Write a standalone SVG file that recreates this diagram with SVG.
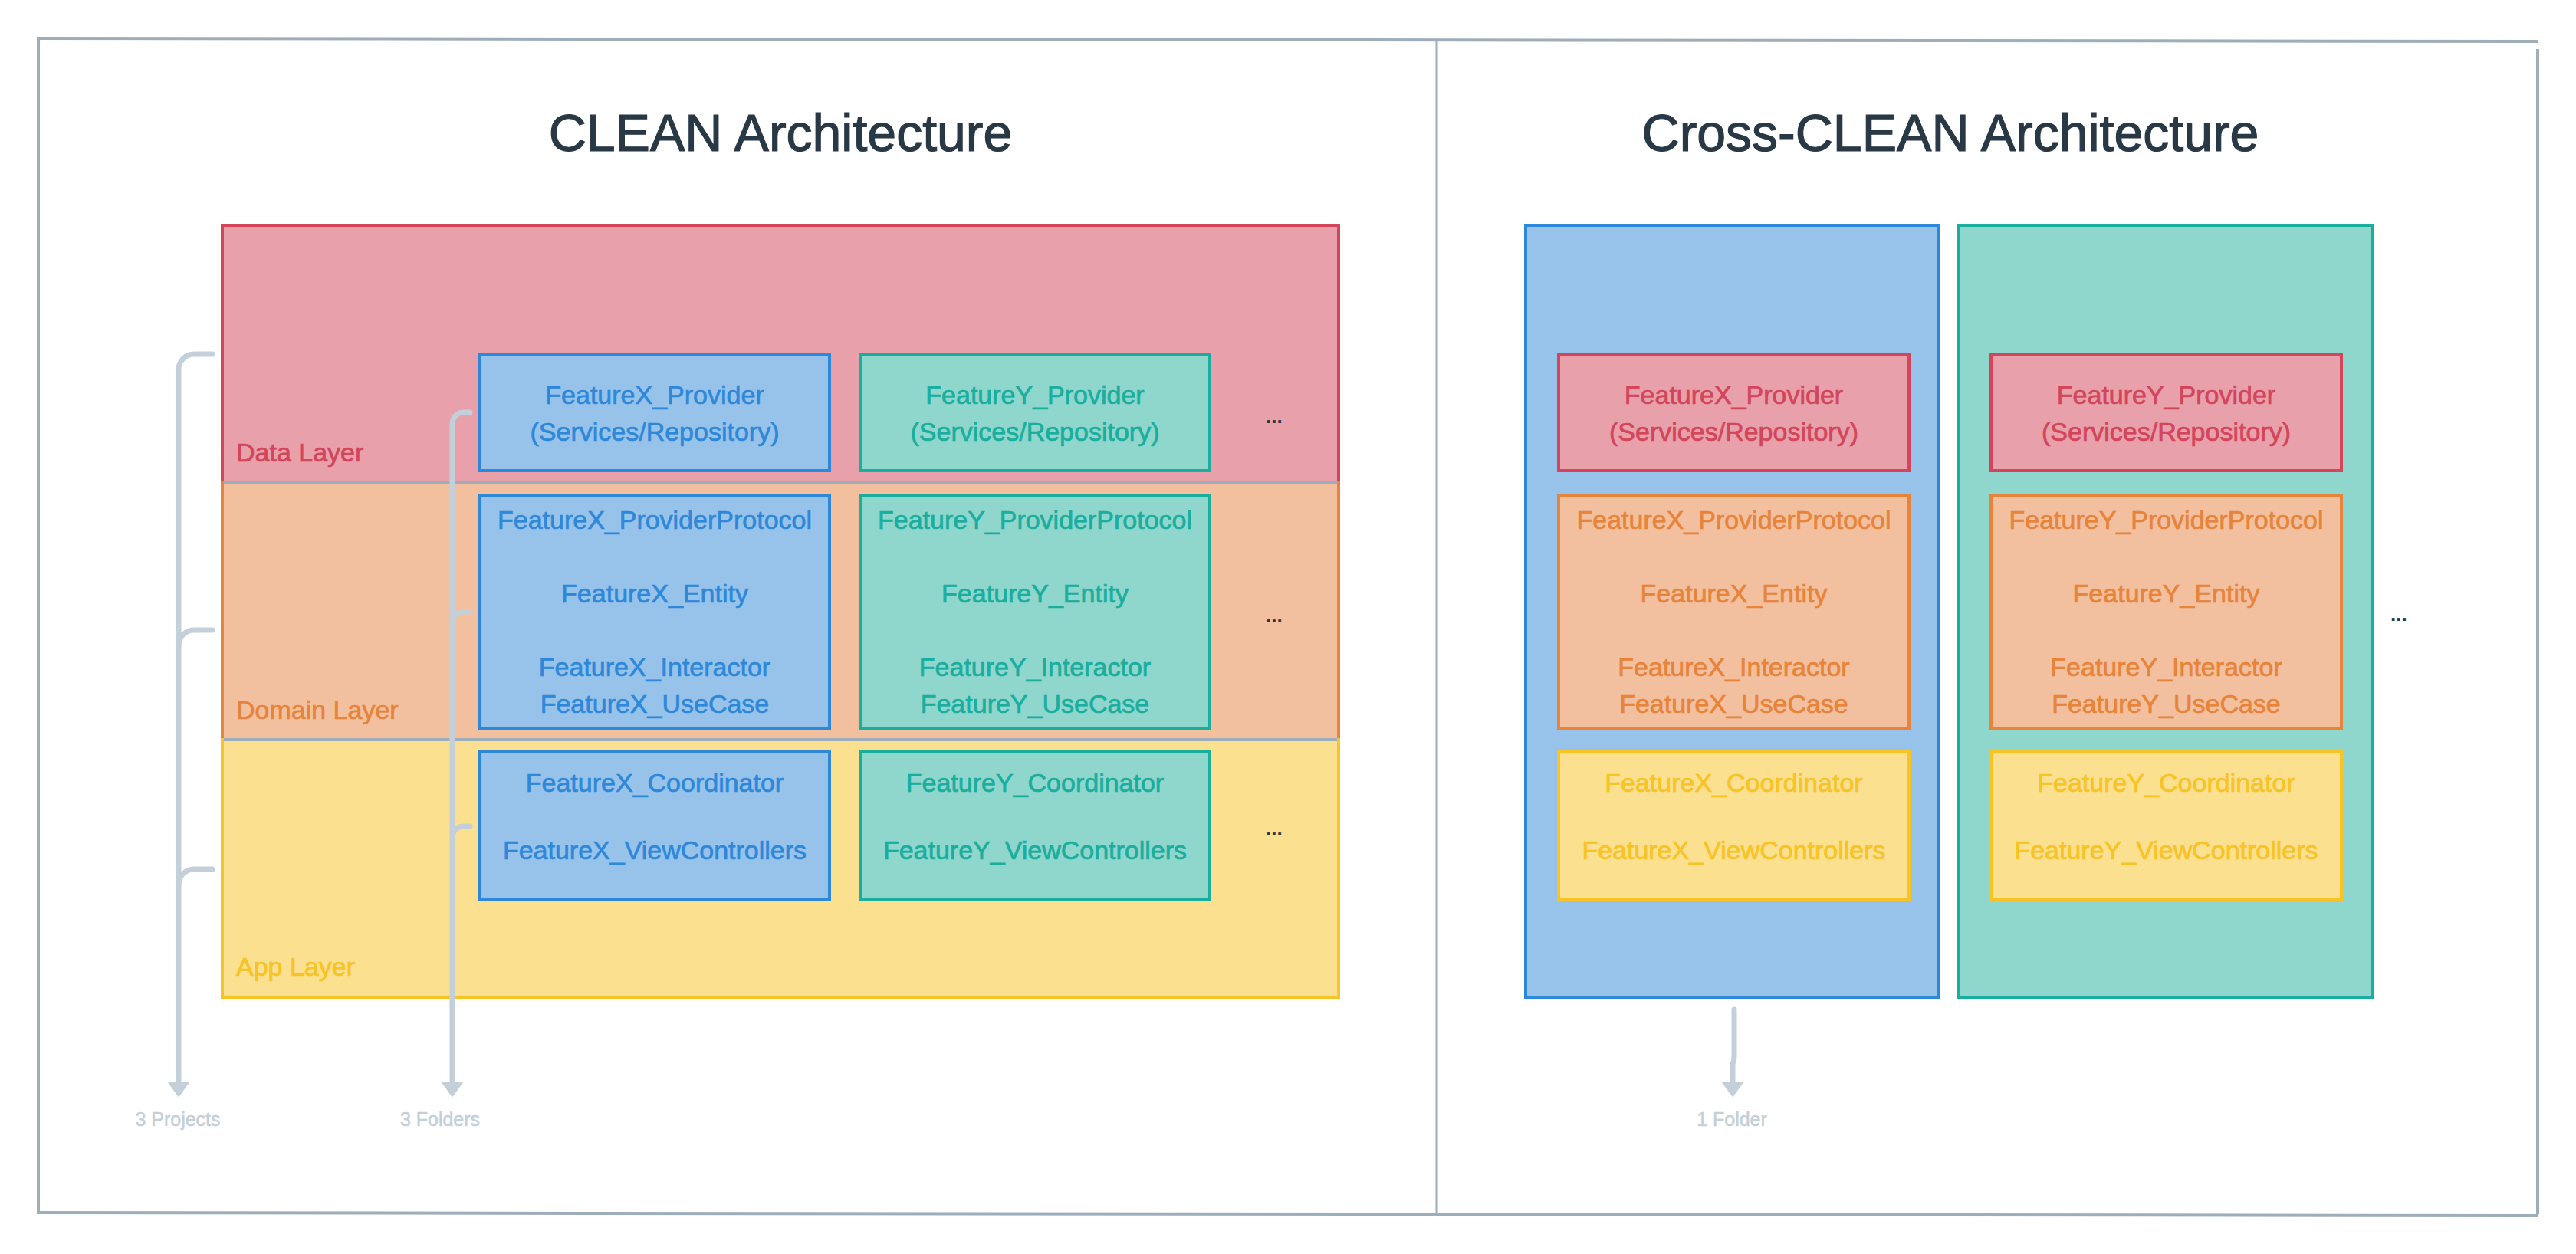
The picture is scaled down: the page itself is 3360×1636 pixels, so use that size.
<svg xmlns="http://www.w3.org/2000/svg" width="3360" height="1636" viewBox="0 0 3360 1636">
<style>
text{font-family:"Liberation Sans",Arial,sans-serif;}
.title{font-size:68px;fill:#283845;stroke:#283845;stroke-width:1.2;text-anchor:middle;}
.t{font-size:34px;text-anchor:middle;stroke-width:0.7;}
.lbl{font-size:34px;stroke-width:0.7;}
.note{font-size:25px;fill:#c3cfd9;stroke:#c3cfd9;stroke-width:0.5;text-anchor:middle;}
.dots{font-size:26px;font-weight:bold;fill:#283845;}
.frame{stroke:#9eadba;stroke-width:4;fill:none;}
.sep{stroke:#9eadba;stroke-width:4;}
.blue{fill:#97c3eb;stroke:#2e88d9;stroke-width:4;}
.green{fill:#8fd6cc;stroke:#1aae9f;stroke-width:4;}
.red{fill:#e8a0aa;stroke:#d3455b;stroke-width:4;}
.orange{fill:#f2c09e;stroke:#e8833a;stroke-width:4;}
.yellow{fill:#fae08f;stroke:#f7c325;stroke-width:4;}
.tb{fill:#2e88d9;stroke:#2e88d9;}
.tg{fill:#1aae9f;stroke:#1aae9f;}
.tr{fill:#d3455b;stroke:#d3455b;}
.to{fill:#e8833a;stroke:#e8833a;}
.ty{fill:#f7c325;stroke:#f7c325;}
.br{fill:none;stroke:#c3cfd9;stroke-width:7;stroke-linecap:round;}
</style>
<defs>
<marker id="ah" viewBox="0 0 20 28" refX="2" refY="14" markerWidth="20" markerHeight="28" markerUnits="userSpaceOnUse" orient="auto">
<path d="M1,1 L19,14 L1,27 Z" fill="#c3cfd9" stroke="#c3cfd9" stroke-width="2" stroke-linejoin="round"/>
</marker>
</defs>
<rect width="3360" height="1636" fill="#ffffff"/>

<g id="frame">
<line class="frame" x1="48" y1="50" x2="3310" y2="54"/>
<line class="frame" x1="50" y1="50" x2="50" y2="1584"/>
<line class="frame" x1="48" y1="1582" x2="3310" y2="1586"/>
<line class="frame" x1="3310" y1="64" x2="3310" y2="1584"/>
<line stroke="#9eadba" stroke-width="3" x1="1874" y1="52" x2="1874" y2="1584"/>
</g>

<g id="title-clean"><text class="title" x="1018" y="197">CLEAN Architecture</text></g>
<g id="title-cross"><text class="title" x="2544" y="197">Cross-CLEAN Architecture</text></g>

<g id="data-layer">
<rect class="red" x="290" y="294" width="1456" height="336"/>
<text class="lbl tr" x="308" y="602">Data Layer</text>
</g>
<g id="domain-layer">
<rect class="orange" x="290" y="630" width="1456" height="335"/>
<text class="lbl to" x="308" y="938">Domain Layer</text>
</g>
<g id="app-layer">
<rect class="yellow" x="290" y="965" width="1456" height="336"/>
<text class="lbl ty" x="308" y="1273">App Layer</text>
</g>
<g id="layer-separators">
<line class="sep" x1="292" y1="630" x2="1744" y2="630"/>
<line class="sep" x1="292" y1="965" x2="1744" y2="965"/>
</g>

<g id="featureX-provider">
<rect class="blue" x="626" y="462" width="456" height="152"/>
<text class="t tb" x="854" y="527">FeatureX_Provider</text>
<text class="t tb" x="854" y="575">(Services/Repository)</text>
</g>
<g id="featureY-provider">
<rect class="green" x="1122" y="462" width="456" height="152"/>
<text class="t tg" x="1350" y="527">FeatureY_Provider</text>
<text class="t tg" x="1350" y="575">(Services/Repository)</text>
</g>
<g id="featureX-domain">
<rect class="blue" x="626" y="646" width="456" height="304"/>
<text class="t tb" x="854" y="690">FeatureX_ProviderProtocol</text>
<text class="t tb" x="854" y="786">FeatureX_Entity</text>
<text class="t tb" x="854" y="882">FeatureX_Interactor</text>
<text class="t tb" x="854" y="930">FeatureX_UseCase</text>
</g>
<g id="featureY-domain">
<rect class="green" x="1122" y="646" width="456" height="304"/>
<text class="t tg" x="1350" y="690">FeatureY_ProviderProtocol</text>
<text class="t tg" x="1350" y="786">FeatureY_Entity</text>
<text class="t tg" x="1350" y="882">FeatureY_Interactor</text>
<text class="t tg" x="1350" y="930">FeatureY_UseCase</text>
</g>
<g id="featureX-app">
<rect class="blue" x="626" y="981" width="456" height="193"/>
<text class="t tb" x="854" y="1033">FeatureX_Coordinator</text>
<text class="t tb" x="854" y="1121">FeatureX_ViewControllers</text>
</g>
<g id="featureY-app">
<rect class="green" x="1122" y="981" width="456" height="193"/>
<text class="t tg" x="1350" y="1033">FeatureY_Coordinator</text>
<text class="t tg" x="1350" y="1121">FeatureY_ViewControllers</text>
</g>
<g id="ellipsis-left">
<text class="dots" x="1651" y="552">...</text>
<text class="dots" x="1651" y="812">...</text>
<text class="dots" x="1651" y="1090">...</text>
</g>

<g id="featureX-column">
<rect class="blue" x="1990" y="294" width="539" height="1007"/>
</g>
<g id="featureY-column">
<rect class="green" x="2554" y="294" width="540" height="1007"/>
</g>
<g id="featureX-provider-r">
<rect class="red" x="2033" y="462" width="457" height="152"/>
<text class="t tr" x="2261.5" y="527">FeatureX_Provider</text>
<text class="t tr" x="2261.5" y="575">(Services/Repository)</text>
</g>
<g id="featureY-provider-r">
<rect class="red" x="2597" y="462" width="457" height="152"/>
<text class="t tr" x="2825.5" y="527">FeatureY_Provider</text>
<text class="t tr" x="2825.5" y="575">(Services/Repository)</text>
</g>
<g id="featureX-domain-r">
<rect class="orange" x="2033" y="646" width="457" height="304"/>
<text class="t to" x="2261.5" y="690">FeatureX_ProviderProtocol</text>
<text class="t to" x="2261.5" y="786">FeatureX_Entity</text>
<text class="t to" x="2261.5" y="882">FeatureX_Interactor</text>
<text class="t to" x="2261.5" y="930">FeatureX_UseCase</text>
</g>
<g id="featureY-domain-r">
<rect class="orange" x="2597" y="646" width="457" height="304"/>
<text class="t to" x="2825.5" y="690">FeatureY_ProviderProtocol</text>
<text class="t to" x="2825.5" y="786">FeatureY_Entity</text>
<text class="t to" x="2825.5" y="882">FeatureY_Interactor</text>
<text class="t to" x="2825.5" y="930">FeatureY_UseCase</text>
</g>
<g id="featureX-app-r">
<rect class="yellow" x="2033" y="981" width="457" height="193"/>
<text class="t ty" x="2261.5" y="1033">FeatureX_Coordinator</text>
<text class="t ty" x="2261.5" y="1121">FeatureX_ViewControllers</text>
</g>
<g id="featureY-app-r">
<rect class="yellow" x="2597" y="981" width="457" height="193"/>
<text class="t ty" x="2825.5" y="1033">FeatureY_Coordinator</text>
<text class="t ty" x="2825.5" y="1121">FeatureY_ViewControllers</text>
</g>
<g id="ellipsis-right">
<text class="dots" x="3118" y="810">...</text>
</g>

<g id="connectors">
<path class="br" d="M277,462 H253 A20,20 0 0 0 233,482 V1413" marker-end="url(#ah)"/>
<path class="br" d="M277,822 H253 A20,20 0 0 0 233,842"/>
<path class="br" d="M277,1134 H253 A20,20 0 0 0 233,1154"/>
<path class="br" d="M613,538 H605 A15,15 0 0 0 590,553 V1413" marker-end="url(#ah)"/>
<path class="br" d="M613,798 H605 A15,15 0 0 0 590,813"/>
<path class="br" d="M613,1078 H605 A15,15 0 0 0 590,1093"/>
<path class="br" d="M2262,1317 V1378 Q2262,1384 2260,1388 V1413" marker-end="url(#ah)"/>
</g>

<g id="labels">
<text class="note" x="232" y="1469">3 Projects</text>
<text class="note" x="574" y="1469">3 Folders</text>
<text class="note" x="2259" y="1469">1 Folder</text>
</g>
</svg>
